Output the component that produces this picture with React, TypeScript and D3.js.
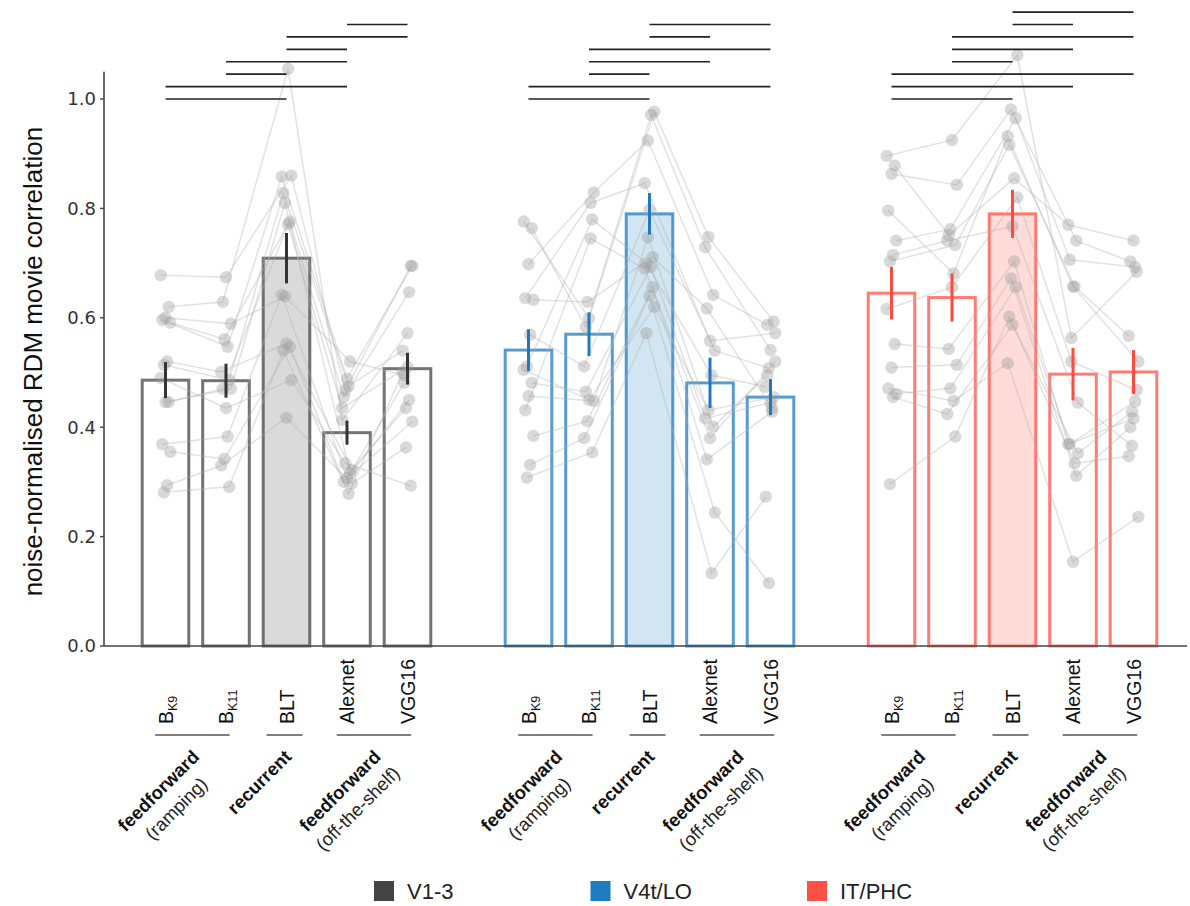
import React from "react";
import * as d3 from "d3";

// regions (legend) and models (x categories)
const regions = ["V1-3", "V4t/LO", "IT/PHC"];
const regionColors = ["#444444", "#1f7bbf", "#ff5047"];
const errorColors = ["#333333", "#1f78c0", "#ff4a40"];
const models = ["BK9", "BK11", "BLT", "Alexnet", "VGG16"];
const modelLabels = [
  { main: "B", sub: "K9" },
  { main: "B", sub: "K11" },
  { main: "BLT", sub: "" },
  { main: "Alexnet", sub: "" },
  { main: "VGG16", sub: "" },
];
const recurrentModel = "BLT";

// model families shown under the axis
const families = [
  { bold: "feedforward", sub: "(ramping)", members: [0, 1] },
  { bold: "recurrent", sub: "", members: [2] },
  { bold: "feedforward", sub: "(off-the-shelf)", members: [3, 4] },
];

// bar means and standard errors per region
const v13Mean = [0.486, 0.485, 0.709, 0.39, 0.507];
const v13Sem = [0.033, 0.031, 0.046, 0.022, 0.029];
const v4Mean = [0.541, 0.57, 0.79, 0.481, 0.455];
const v4Sem = [0.038, 0.04, 0.038, 0.046, 0.033];
const itMean = [0.645, 0.637, 0.79, 0.497, 0.501];
const itSem = [0.048, 0.044, 0.044, 0.048, 0.04];

// individual subjects (one array per model, index = subject)
const v13Subjects = [
  [0.678, 0.62, 0.6, 0.596, 0.591, 0.52, 0.514, 0.49, 0.446, 0.446, 0.369, 0.355, 0.294, 0.281],
  [0.674, 0.629, 0.589, 0.547, 0.561, 0.501, 0.486, 0.435, 0.47, 0.47, 0.383, 0.342, 0.33, 0.291],
  [0.86, 1.055, 0.639, 0.858, 0.776, 0.553, 0.828, 0.486, 0.771, 0.81, 0.642, 0.547, 0.417, 0.54],
  [0.468, 0.413, 0.52, 0.489, 0.455, 0.322, 0.475, 0.334, 0.435, 0.316, 0.307, 0.3, 0.297, 0.278],
  [0.695, 0.572, 0.495, 0.695, 0.647, 0.435, 0.54, 0.293, 0.51, 0.481, 0.41, 0.45, 0.363, 0.5],
];
const v4Subjects = [
  [0.776, 0.764, 0.698, 0.636, 0.633, 0.569, 0.511, 0.505, 0.481, 0.457, 0.431, 0.384, 0.331, 0.308],
  [0.599, 0.583, 0.829, 0.81, 0.629, 0.511, 0.78, 0.45, 0.465, 0.448, 0.745, 0.411, 0.38, 0.354],
  [0.977, 0.971, 0.924, 0.846, 0.711, 0.797, 0.7, 0.62, 0.693, 0.747, 0.69, 0.656, 0.64, 0.572],
  [0.748, 0.729, 0.642, 0.558, 0.617, 0.54, 0.495, 0.431, 0.416, 0.401, 0.38, 0.341, 0.244, 0.133],
  [0.593, 0.541, 0.587, 0.572, 0.435, 0.508, 0.474, 0.455, 0.445, 0.495, 0.52, 0.428, 0.115, 0.273],
];
const itSubjects = [
  [0.896, 0.878, 0.863, 0.796, 0.741, 0.715, 0.703, 0.616, 0.552, 0.509, 0.471, 0.461, 0.455, 0.296],
  [0.925, 0.751, 0.843, 0.681, 0.762, 0.741, 0.733, 0.656, 0.543, 0.514, 0.448, 0.471, 0.424, 0.383],
  [1.08, 0.855, 0.981, 0.932, 0.965, 0.767, 0.916, 0.82, 0.703, 0.672, 0.517, 0.656, 0.587, 0.602],
  [0.563, 0.77, 0.741, 0.657, 0.706, 0.445, 0.657, 0.52, 0.369, 0.311, 0.154, 0.369, 0.352, 0.334],
  [0.684, 0.741, 0.703, 0.52, 0.693, 0.366, 0.567, 0.468, 0.416, 0.4, 0.236, 0.447, 0.428, 0.347],
];

// significant pairwise comparisons, stacked bottom to top
const v13Sig = [[0, 2], [0, 3], [1, 2], [1, 3], [2, 3], [2, 4], [3, 4]];
const v4Sig = [[0, 2], [0, 4], [1, 2], [1, 3], [1, 4], [2, 3], [2, 4]];
const itSig = [[0, 2], [0, 3], [0, 4], [1, 2], [1, 3], [1, 4], [2, 3], [2, 4]];

const yTicks = [0, 0.2, 0.4, 0.6, 0.8, 1.0];
const sigBase = 1.0;
const sigStep = 0.0227;

const means = [v13Mean, v4Mean, itMean];
const sems = [v13Sem, v4Sem, itSem];
const subjects = [v13Subjects, v4Subjects, itSubjects];
const sigs = [v13Sig, v4Sig, itSig];

const SANS = "'Liberation Sans', Arial, Helvetica, sans-serif";
const TICK_FONT = "'DejaVu Sans', sans-serif";

let measureCanvas: HTMLCanvasElement | null = null;
function measure(text: string, font: string) {
  if (!measureCanvas) measureCanvas = document.createElement("canvas");
  const ctx = measureCanvas.getContext("2d")!;
  ctx.font = font;
  return ctx.measureText(text).width;
}

export default function App() {
  const width = 1190;
  const height = 906;
  const y0 = 646;

  const y = d3.scaleLinear().domain([0, 1.05]).range([y0, y0 - 1.05 * 547]);

  // 5 bars per region with an empty slot between regions
  const keys = regions.flatMap((r, ri) => [
    ...models.map((m) => `${r}|${m}`),
    ...(ri < regions.length - 1 ? [`gap${ri}`] : []),
  ]);
  const x = d3
    .scaleBand()
    .domain(keys)
    .range([135.25, 1163.75])
    .paddingInner(0.23)
    .paddingOuter(0.115);
  const bw = x.bandwidth();
  const step = x.step();
  const cx = (ri: number, mi: number) => x(`${regions[ri]}|${models[mi]}`)! + bw / 2;

  // small fixed horizontal spread for the subject dots
  const jit = (s: number, m: number) => ((((s * 5 + m * 3) % 7) - 3) * 1.6);

  const line = d3
    .line<[number, number]>()
    .x((d) => d[0])
    .y((d) => d[1]);

  const bracketY = 735;
  const catSize = 18.5;
  const u = [Math.SQRT1_2, -Math.SQRT1_2];
  const v = [Math.SQRT1_2, Math.SQRT1_2];

  return (
    <svg
      width={width}
      height={height}
      style={{ position: "absolute", left: 0, top: 0, background: "#fff" }}
    >
      {/* y axis */}
      <line x1={104} x2={104} y1={y(1.05)} y2={y0} stroke="#444" strokeWidth={1.6} />
      {yTicks.map((t) => (
        <g key={t}>
          <line x1={100} x2={104} y1={y(t)} y2={y(t)} stroke="#444" strokeWidth={1.4} />
          <text
            x={96}
            y={y(t)}
            dy="0.36em"
            textAnchor="end"
            fontFamily={TICK_FONT}
            fontSize={18}
            fill="#333"
          >
            {d3.format(".1f")(t)}
          </text>
        </g>
      ))}
      <text
        transform={`translate(33,${y(0.52)}) rotate(-90)`}
        dy="0.36em"
        textAnchor="middle"
        fontFamily={SANS}
        fontSize={26}
        fill="#111"
      >
        noise-normalised RDM movie correlation
      </text>

      {regions.map((r, ri) => {
        const color = regionColors[ri];
        const subj = subjects[ri];
        const nSubj = subj[0].length;
        return (
          <g key={r}>
            {/* bars */}
            {models.map((m, mi) => (
              <rect
                key={m}
                x={x(`${r}|${m}`)!}
                y={y(means[ri][mi])}
                width={bw}
                height={y0 - y(means[ri][mi])}
                fill={m === recurrentModel ? color : "#fff"}
                fillOpacity={m === recurrentModel ? 0.2 : 1}
                stroke={color}
                strokeOpacity={0.75}
                strokeWidth={3}
              />
            ))}
            {/* subject lines */}
            {d3.range(nSubj).map((s) => (
              <path
                key={`l${s}`}
                d={
                  line(
                    models.map((_, mi) => [cx(ri, mi) + jit(s, mi), y(subj[mi][s])] as [number, number])
                  ) || ""
                }
                fill="none"
                stroke="#b4b4b4"
                strokeOpacity={0.38}
                strokeWidth={1.5}
              />
            ))}
            {/* subject dots */}
            {models.map((m, mi) =>
              subj[mi].map((val, s) => (
                <circle
                  key={`${m}${s}`}
                  cx={cx(ri, mi) + jit(s, mi)}
                  cy={y(val)}
                  r={6.2}
                  fill="#9c9c9c"
                  fillOpacity={0.38}
                />
              ))
            )}
            {/* error bars */}
            {models.map((m, mi) => (
              <line
                key={`e${m}`}
                x1={cx(ri, mi)}
                x2={cx(ri, mi)}
                y1={y(means[ri][mi] - sems[ri][mi])}
                y2={y(means[ri][mi] + sems[ri][mi])}
                stroke={errorColors[ri]}
                strokeWidth={3}
              />
            ))}
            {/* significance lines */}
            {sigs[ri].map(([a, b], k) => (
              <line
                key={`s${k}`}
                x1={cx(ri, a)}
                x2={cx(ri, b)}
                y1={y(sigBase + k * sigStep)}
                y2={y(sigBase + k * sigStep)}
                stroke="#222"
                strokeWidth={1.7}
              />
            ))}
            {/* model labels */}
            {modelLabels.map((lab, mi) => (
              <text
                key={`t${mi}`}
                transform={`translate(${cx(ri, mi)},724) rotate(-90)`}
                dy="0.36em"
                fontFamily={SANS}
                fontSize={19.5}
                fill="#111"
              >
                {lab.main}
                {lab.sub && (
                  <tspan fontSize={12.5} dy={4}>
                    {lab.sub}
                  </tspan>
                )}
              </text>
            ))}
            {/* family brackets and labels */}
            {families.map((f, fi) => {
              const first = cx(ri, f.members[0]);
              const last = cx(ri, f.members[f.members.length - 1]);
              const single = f.members.length === 1;
              const bx0 = first - (single ? 0.33 : 0.17) * step;
              const bx1 = last + (single ? 0.265 : 0.06) * step;
              const bc = (bx0 + bx1) / 2;
              const w1 = measure(f.bold, `bold ${catSize}px 'Liberation Sans'`);
              const ex = bc + 8;
              const ey = bracketY + 23;
              const c1x = ex - (u[0] * w1) / 2;
              const c1y = ey - (u[1] * w1) / 2;
              const c2x = c1x + v[0] * 25;
              const c2y = c1y + v[1] * 25;
              return (
                <g key={`f${fi}`}>
                  <line x1={bx0} x2={bx1} y1={bracketY} y2={bracketY} stroke="#555" strokeWidth={1.6} />
                  <text
                    transform={`translate(${c1x},${c1y}) rotate(-45)`}
                    textAnchor="middle"
                    fontFamily={SANS}
                    fontWeight="bold"
                    fontSize={catSize}
                    fill="#111"
                  >
                    {f.bold}
                  </text>
                  {f.sub && (
                    <text
                      transform={`translate(${c2x},${c2y}) rotate(-45)`}
                      textAnchor="middle"
                      fontFamily={SANS}
                      fontSize={catSize}
                      fill="#222"
                    >
                      {f.sub}
                    </text>
                  )}
                </g>
              );
            })}
          </g>
        );
      })}

      {/* x axis */}
      <line x1={104} x2={1187} y1={y0} y2={y0} stroke="#444" strokeWidth={1.6} />

      {/* legend */}
      {regions.map((r, ri) => {
        const lx = 374 + ri * 216.5;
        return (
          <g key={`lg${r}`}>
            <rect x={lx} y={881} width={20} height={20} fill={regionColors[ri]} />
            <text
              x={lx + 33}
              y={891}
              dy="0.36em"
              fontFamily={SANS}
              fontSize={22}
              fill="#222"
            >
              {r}
            </text>
          </g>
        );
      })}
    </svg>
  );
}
